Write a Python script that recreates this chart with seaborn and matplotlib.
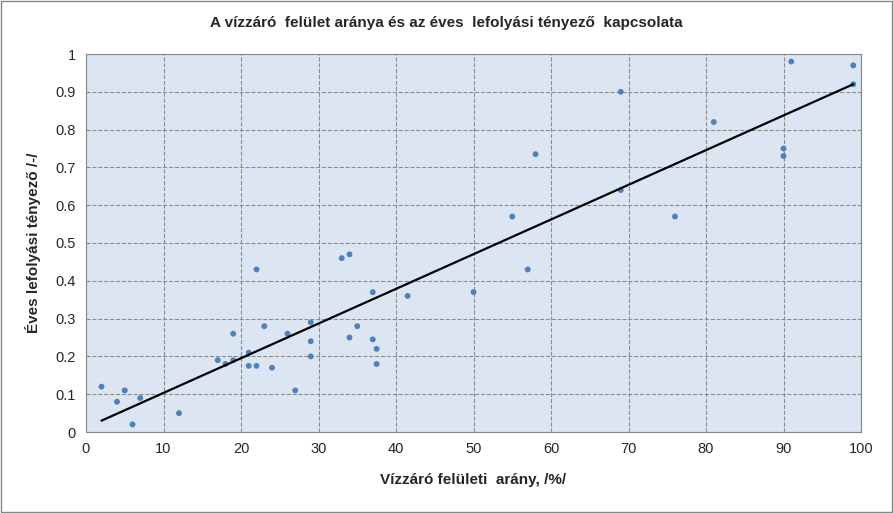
import numpy as np
import matplotlib.pyplot as plt
import seaborn as sns

# Vízzáró felületi arány (%) és éves lefolyási tényező
arany = [2, 4, 5, 6, 7, 12, 17, 18, 19, 19, 21, 21, 22, 22, 23, 24, 26, 27,
         29, 29, 29, 33, 34, 34, 35, 37, 37, 37.5, 37.5, 41.5, 50, 55, 57, 58,
         69, 69, 76, 81, 90, 90, 91, 99, 99]
tenyezo = [0.12, 0.08, 0.11, 0.02, 0.09, 0.05, 0.19, 0.18, 0.26, 0.19, 0.21, 0.175,
           0.175, 0.43, 0.28, 0.17, 0.26, 0.11, 0.29, 0.24, 0.20, 0.46, 0.47, 0.25,
           0.28, 0.37, 0.245, 0.22, 0.18, 0.36, 0.37, 0.57, 0.43, 0.735, 0.90, 0.64,
           0.57, 0.82, 0.75, 0.73, 0.98, 0.97, 0.92]
trend_x = [2, 99]
trend_y = [0.03, 0.92]

sns.set_style("white")
plt.rcParams['font.family'] = ['Liberation Sans', 'DejaVu Sans']

fig = plt.figure(figsize=(8.93, 5.13), dpi=100)
ax = fig.add_axes([86 / 893, 1 - 432 / 513, 775 / 893, 378 / 513])
ax.set_facecolor('#DCE6F2')

sns.scatterplot(x=arany, y=tenyezo, ax=ax, color='#4F81BD', s=18, edgecolor='none', zorder=3)
sns.lineplot(x=trend_x, y=trend_y, ax=ax, color='black', linewidth=1.6, zorder=4)

ax.set_xlim(0, 100)
ax.set_ylim(0, 1)
ax.set_xticks(range(0, 101, 10))
ax.set_yticks(np.round(np.arange(0, 1.01, 0.1), 1))
ax.set_yticklabels(['0'] + [f'{v:.1f}' for v in np.arange(0.1, 0.95, 0.1)] + ['1'])
ax.grid(True, color='#8c8c8c', linestyle='--', linewidth=0.8)
ax.set_axisbelow(True)
for s in ax.spines.values():
    s.set_color('#868686')
ax.tick_params(labelsize=10.5, length=4, direction='out', color='#868686')

ax.set_xlabel('Vízzáró felületi  arány, /%/', fontsize=11, fontweight='bold', labelpad=12)
ax.set_ylabel('Éves lefolyási tényező /-/', fontsize=11, fontweight='bold', labelpad=10)
fig.text(0.5, 0.955, 'A vízzáró  felület aránya és az éves  lefolyási tényező  kapcsolata',
         ha='center', va='center', fontsize=11, fontweight='bold')

fig.patches.append(plt.Rectangle((0.001, 0.001), 0.998, 0.997, transform=fig.transFigure,
                                 fill=False, edgecolor='#868686', linewidth=1))
fig.savefig('out.png', dpi=100)
